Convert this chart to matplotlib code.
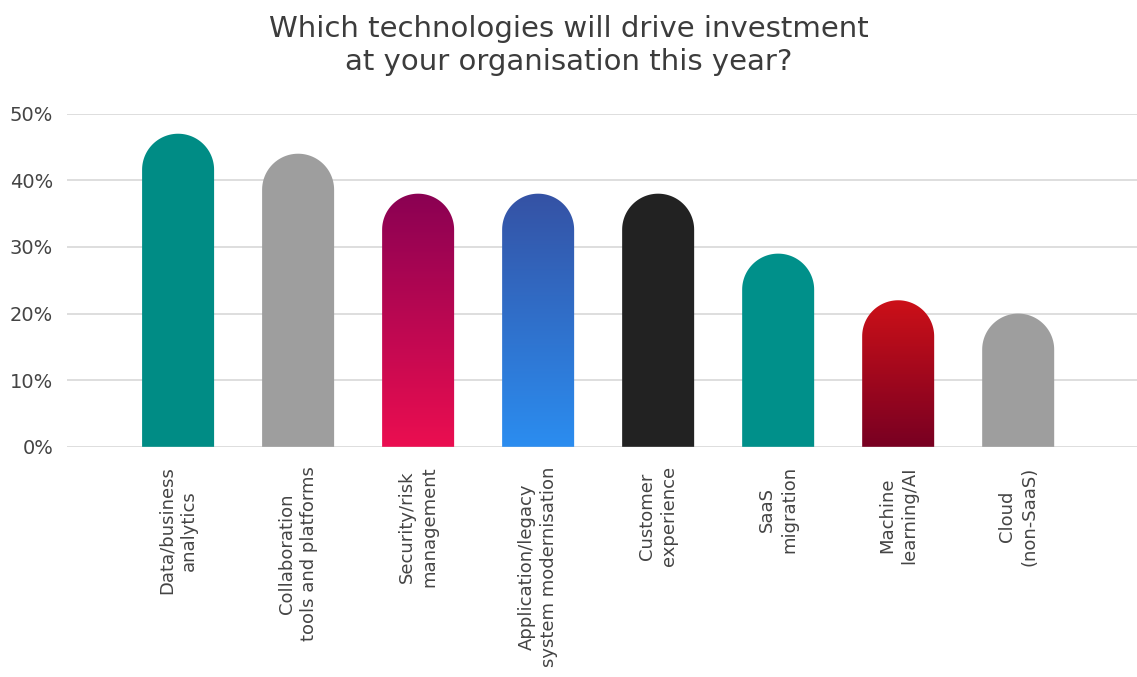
import numpy as np
import matplotlib
matplotlib.use("Agg")
import matplotlib.pyplot as plt
from matplotlib.path import Path
from matplotlib.patches import PathPatch
from matplotlib.colors import LinearSegmentedColormap

# données
categories = ["Data/business\nanalytics", "Collaboration\ntools and platforms",
              "Security/risk\nmanagement", "Application/legacy\nsystem modernisation",
              "Customer\nexperience", "SaaS\nmigration", "Machine\nlearning/AI",
              "Cloud\n(non-SaaS)"]
values = [47, 44, 38, 38, 38, 29, 22, 20]
# couleur (haut, bas) de chaque barre
colors_top = ["#008C85", "#9E9E9E", "#8A0153", "#3552A4", "#222222", "#00908A", "#CC1018", "#9E9E9E"]
colors_bottom = ["#008C85", "#9E9E9E", "#EB0E50", "#2B8DF0", "#222222", "#00908A", "#780022", "#9E9E9E"]
yticks = [0, 10, 20, 30, 40, 50]

plt.rcParams['font.family'] = ['DejaVu Sans']

fig = plt.figure(figsize=(11.37, 6.77), dpi=100)
ax = fig.add_axes([0.059, 0.34, 0.941, 0.492])
ax.set_xlim(-0.925, 7.99)
ax.set_ylim(0, 50)
ax.set_yticks(yticks)
ax.set_yticklabels([f"{t}%" for t in yticks], fontsize=14, color="#444444")
ax.grid(axis="y", color="#d4d4d4", linewidth=1.1)
ax.set_axisbelow(True)
for s in ax.spines.values():
    s.set_visible(False)
ax.tick_params(axis="both", length=0)
ax.tick_params(axis="y", pad=10)
ax.tick_params(axis="x", pad=14)
x = np.arange(len(categories))
ax.set_xticks(x)
ax.set_xticklabels(categories, rotation=90, fontsize=13, color="#444444",
                   ha="center", va="top", multialignment="center", linespacing=1.3)

width = 0.6
# rayon du haut arrondi en unités y (demi-largeur en pixels)
fig.canvas.draw()
px_x = ax.transData.transform((1, 0))[0] - ax.transData.transform((0, 0))[0]
px_y = ax.transData.transform((0, 1))[1] - ax.transData.transform((0, 0))[1]
r_y = (width / 2) * px_x / px_y

t = np.linspace(0, np.pi, 60)
for i, v in enumerate(values):
    x0, x1 = i - width / 2, i + width / 2
    yc = v - r_y
    arc = np.column_stack([i + (width / 2) * np.cos(t), yc + r_y * np.sin(t)])
    verts = np.vstack([[x1, 0], arc, [x0, 0], [x1, 0]])
    path = Path(verts, closed=True)
    if colors_top[i] == colors_bottom[i]:
        ax.add_patch(PathPatch(path, facecolor=colors_top[i], edgecolor="none", zorder=2))
    else:
        patch = PathPatch(path, facecolor="none", edgecolor="none", zorder=2)
        ax.add_patch(patch)
        cmap = LinearSegmentedColormap.from_list(f"g{i}", [colors_bottom[i], colors_top[i]])
        grad = np.linspace(0, 1, 256).reshape(-1, 1)
        im = ax.imshow(grad, cmap=cmap, aspect="auto", origin="lower",
                       extent=[x0, x1, 0, v], zorder=2, interpolation="bilinear")
        im.set_clip_path(patch)

ax.set_xlim(-0.925, 7.99)
ax.set_ylim(0, 50)

fig.text(0.5, 0.978, "Which technologies will drive investment\nat your organisation this year?",
         ha="center", va="top", fontsize=21, color="#3c3c3c",
         linespacing=1.25)

fig.savefig("out.png", dpi=100)
